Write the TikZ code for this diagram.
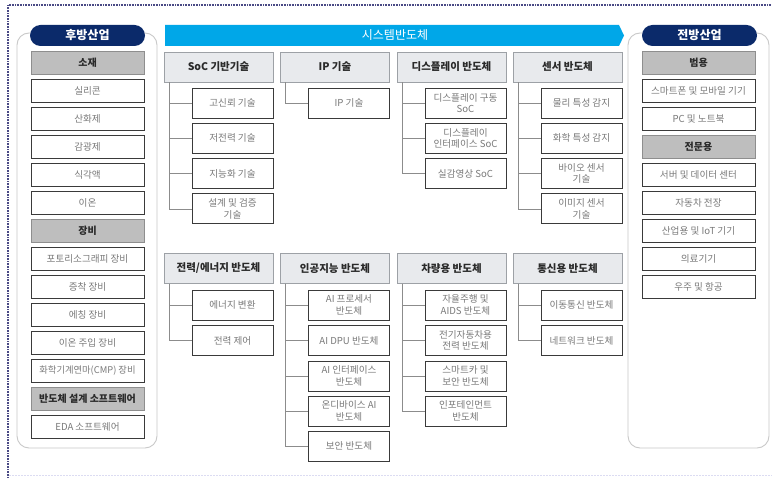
\documentclass[tikz,border=0pt]{standalone}
\usepackage{fontspec}
\setmainfont{Noto Sans CJK KR}
\definecolor{navy}{HTML}{0B2A6A}
\definecolor{bannerblue}{HTML}{00A7E8}
\definecolor{hdrfill}{HTML}{E8EAED}
\definecolor{hdrline}{HTML}{9DA1A6}
\definecolor{catfill}{HTML}{BEBEBE}
\definecolor{catline}{HTML}{8E8E8E}
\definecolor{cattext}{HTML}{2A2A2A}
\definecolor{boxline}{HTML}{3A3A3A}
\definecolor{subtext}{HTML}{7A7A7A}
\definecolor{linkgray}{HTML}{8C8C8C}
\definecolor{panelline}{HTML}{C9C9C9}
\definecolor{outerline}{HTML}{4A4A85}
\definecolor{outerlight}{HTML}{DCDCF2}
\begin{document}
\begin{tikzpicture}[x=1pt,y=-1pt,
  every node/.style={align=center, inner sep=1pt},
  leftbox/.style={draw=boxline, fill=white, line width=0.9pt, minimum width=113pt, minimum height=23pt, text=subtext, font=\fontsize{9.6}{11}\selectfont},
  catbox/.style={draw=catline, fill=catfill, line width=0.6pt, minimum width=113pt, minimum height=23pt, text=cattext, font=\fontsize{10}{11}\selectfont\bfseries},
  header/.style={draw=hdrline, fill=hdrfill, line width=0.6pt, minimum width=109pt, minimum height=30pt, text=cattext, font=\fontsize{10.5}{12}\selectfont\bfseries},
  subbox/.style={draw=boxline, fill=white, line width=0.9pt, minimum width=81pt, minimum height=30pt, text=subtext, font=\fontsize{9.6}{11.5}\selectfont},
  link/.style={draw=linkgray, line width=0.6pt},
  pill/.style={fill=navy, rounded corners=10.5pt, minimum width=115pt, minimum height=21pt, text=white, font=\fontsize{12}{13}\selectfont\bfseries},
  panel/.style={draw=panelline, line width=0.9pt, rounded corners=12pt, fill=white}
]
\useasboundingbox[fill=white] (0,0) rectangle (772,478);
% outer frame
\draw[outerline, line width=1.3pt, dash pattern=on 1pt off 0.6pt] (8,478) -- (8,5) -- (772,5);
\draw[outerlight, line width=1pt, dash pattern=on 2pt off 1pt] (9,476) -- (772,476);

% side panels
\draw[panel] (17,33) rectangle (157,448);
\draw[panel] (628,33) rectangle (769,448);
\node[pill] (back) at (87.5,35.5) {후방산업};
\node[pill] (front) at (699.5,35.5) {전방산업};

% left column
\node[catbox]  (l1)  at (87.5,62.5)  {소재};
\node[leftbox] (l2)  at (87.5,90.5)  {실리콘};
\node[leftbox] (l3)  at (87.5,118.5) {산화제};
\node[leftbox] (l4)  at (87.5,146.5) {감광제};
\node[leftbox] (l5)  at (87.5,174.5) {식각액};
\node[leftbox] (l6)  at (87.5,202.5) {이온};
\node[catbox]  (l7)  at (87.5,230.5) {장비};
\node[leftbox] (l8)  at (87.5,258.5) {포토리소그래피 장비};
\node[leftbox] (l9)  at (87.5,286.5) {증착 장비};
\node[leftbox] (l10) at (87.5,314.5) {에칭 장비};
\node[leftbox] (l11) at (87.5,342.5) {이온 주입 장비};
\node[leftbox, font=\fontsize{9.3}{10}\selectfont] (l12) at (87.5,370.5) {화학기계연마(CMP) 장비};
\node[catbox]  (l13) at (87.5,398.5) {반도체 설계 소프트웨어};
\node[leftbox] (l14) at (87.5,426.5) {EDA 소프트웨어};

% right column
\node[catbox]  (r1) at (698.5,62.5)  {범용};
\node[leftbox] (r2) at (698.5,90.5)  {스마트폰 및 모바일 기기};
\node[leftbox] (r3) at (698.5,118.5) {PC 및 노트북};
\node[catbox]  (r4) at (698.5,146.5) {전문용};
\node[leftbox] (r5) at (698.5,174.5) {서버 및 데이터 센터};
\node[leftbox] (r6) at (698.5,202.5) {자동차 전장};
\node[leftbox] (r7) at (698.5,230.5) {산업용 및 IoT 기기};
\node[leftbox] (r8) at (698.5,258.5) {의료기기};
\node[leftbox] (r9) at (698.5,286.5) {우주 및 항공};

% banner
\fill[bannerblue] (165,25) -- (619,25) -- (624,35.5) -- (619,46) -- (165,46) -- cycle;
\node[text=white, font=\fontsize{12}{13}\selectfont] (sys) at (395,35.5) {시스템반도체};

% row 1 headers
\node[header] (h1) at (218.5,67) {SoC 기반기술};
\node[header] (h2) at (335,67)   {IP 기술};
\node[header] (h3) at (451.5,67) {디스플레이 반도체};
\node[header] (h4) at (567.5,67) {센서 반도체};
% row 2 headers
\node[header] (h5) at (218.5,268.5) {전력/에너지 반도체};
\node[header] (h6) at (335,268.5)   {인공지능 반도체};
\node[header] (h7) at (451.5,268.5) {차량용 반도체};
\node[header] (h8) at (567.5,268.5) {통신용 반도체};

% row 1 subs
\node[subbox] (a1) at (232.5,103)   {고신뢰 기술};
\node[subbox] (a2) at (232.5,138.3) {저전력 기술};
\node[subbox] (a3) at (232.5,173.6) {지능화 기술};
\node[subbox] (a4) at (232.5,208.9) {설계 및 검증\\기술};
\node[subbox] (b1) at (349,103)     {IP 기술};
\node[subbox] (c1) at (465.5,103)   {디스플레이 구동\\SoC};
\node[subbox] (c2) at (465.5,138.3) {디스플레이\\인터페이스 SoC};
\node[subbox] (c3) at (465.5,173.6) {실감영상 SoC};
\node[subbox] (d1) at (581.5,103)   {물리 특성 감지};
\node[subbox] (d2) at (581.5,138.3) {화학 특성 감지};
\node[subbox] (d3) at (581.5,173.6) {바이오 센서\\기술};
\node[subbox] (d4) at (581.5,208.9) {이미지 센서\\기술};
% row 2 subs
\node[subbox] (e1) at (232.5,305)   {에너지 변환};
\node[subbox] (e2) at (232.5,340.5) {전력 제어};
\node[subbox] (f1) at (349,305)     {AI 프로세서\\반도체};
\node[subbox] (f2) at (349,340.5)   {AI DPU 반도체};
\node[subbox] (f3) at (349,376)     {AI 인터페이스\\반도체};
\node[subbox] (f4) at (349,411)     {온디바이스 AI\\반도체};
\node[subbox] (f5) at (349,446)     {보안 반도체};
\node[subbox] (g1) at (465.5,305)   {자율주행 및\\AIDS 반도체};
\node[subbox] (g2) at (465.5,340.5) {전기자동차용\\전력 반도체};
\node[subbox] (g3) at (465.5,376)   {스마트카 및\\보안 반도체};
\node[subbox] (g4) at (465.5,411)   {인포테인먼트\\반도체};
\node[subbox] (k1) at (581.5,305)   {이동통신 반도체};
\node[subbox] (k2) at (581.5,340.5) {네트워크 반도체};

% tree connectors
\foreach \h/\list in {h1/{a1,a2,a3,a4}, h2/{b1}, h3/{c1,c2,c3}, h4/{d1,d2,d3,d4},
                      h5/{e1,e2}, h6/{f1,f2,f3,f4,f5}, h7/{g1,g2,g3,g4}, h8/{k1,k2}}{
  \foreach \s in \list {
    \draw[link] ([xshift=5.5pt]\h.south west) |- (\s.west);
  }
}
\end{tikzpicture}
\end{document}
